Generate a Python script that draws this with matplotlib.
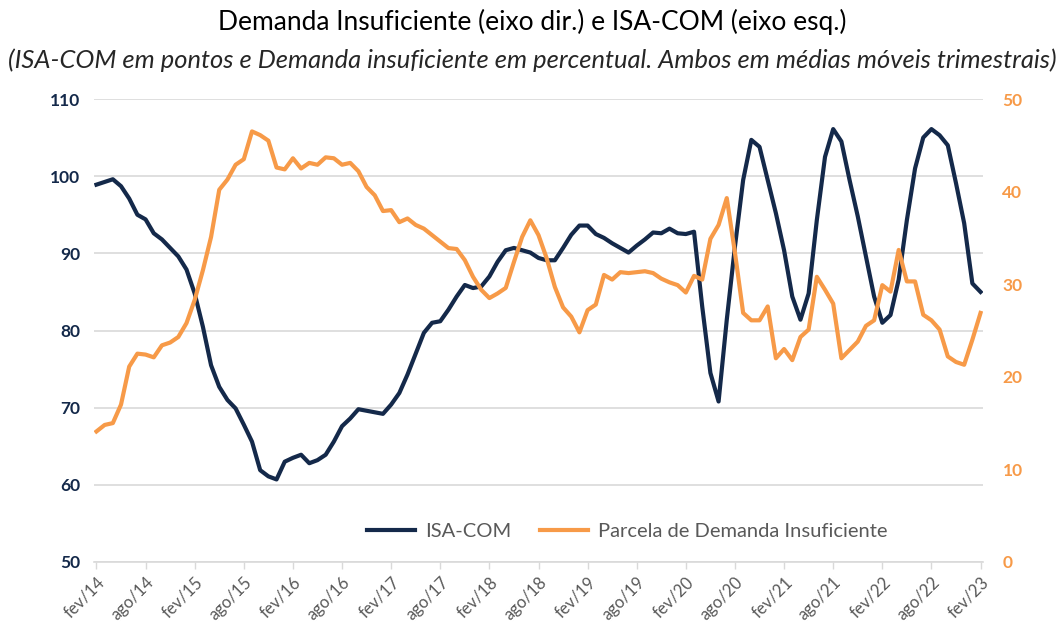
import matplotlib
matplotlib.use("Agg")
import matplotlib.pyplot as plt
import numpy as np

# Monthly data fev/14 .. fev/23 (109 points)
isa_com = [98.9, 99.25, 99.6, 98.7, 97.1, 95.0, 94.4, 92.6, 91.8, 90.7,
           89.6, 87.9, 84.8, 80.5, 75.5, 72.7, 71.0, 69.9, 67.8, 65.6,
           61.9, 61.1, 60.7, 63.0, 63.5, 63.9, 62.8, 63.2, 63.9, 65.6,
           67.6, 68.6, 69.8, 69.6, 69.4, 69.2, 70.4, 71.9, 74.3, 77.0,
           79.7, 81.0, 81.2, 82.7, 84.4, 85.9, 85.5, 85.7, 87.0, 88.9,
           90.4, 90.7, 90.4, 90.1, 89.4, 89.1, 89.1, 90.7, 92.4, 93.6,
           93.6, 92.5, 92.0, 91.3, 90.7, 90.1, 91.0, 91.8, 92.7, 92.6,
           93.2, 92.6, 92.5, 92.8, 83.1, 74.5, 70.8, 81.4, 90.9, 99.5,
           104.7, 103.8, 99.5, 95.2, 90.4, 84.4, 81.4, 84.8, 94.3, 102.5,
           106.1, 104.5, 99.5, 94.8, 89.6, 84.4, 81.0, 82.0, 86.6, 94.3,
           101.0, 105.0, 106.1, 105.3, 104.0, 99.1, 93.9, 86.1, 85.0]

demanda = [14.1, 14.8, 15.0, 17.0, 21.1, 22.5, 22.4, 22.1, 23.4, 23.7,
           24.3, 25.8, 28.3, 31.5, 35.1, 40.2, 41.3, 42.9, 43.5, 46.5,
           46.1, 45.5, 42.6, 42.4, 43.6, 42.5, 43.1, 42.9, 43.7, 43.6,
           42.9, 43.1, 42.2, 40.5, 39.6, 37.9, 38.0, 36.7, 37.1, 36.4,
           36.0, 35.3, 34.6, 33.9, 33.8, 32.6, 30.8, 29.4, 28.5, 29.0,
           29.6, 32.4, 35.1, 36.9, 35.3, 32.8, 29.7, 27.5, 26.5, 24.8,
           27.2, 27.8, 31.0, 30.5, 31.3, 31.2, 31.3, 31.4, 31.2, 30.6,
           30.2, 29.9, 29.1, 30.9, 30.5, 34.9, 36.4, 39.3, 33.4, 26.9,
           26.1, 26.1, 27.6, 22.0, 23.0, 21.8, 24.3, 25.1, 30.8, 29.4,
           27.9, 22.0, 22.9, 23.8, 25.5, 26.1, 29.9, 29.2, 33.7, 30.3,
           30.3, 26.7, 26.1, 25.1, 22.2, 21.6, 21.3, 24.0, 26.9]

tick_labels = ["fev/14", "ago/14", "fev/15", "ago/15", "fev/16", "ago/16",
               "fev/17", "ago/17", "fev/18", "ago/18", "fev/19", "ago/19",
               "fev/20", "ago/20", "fev/21", "ago/21", "fev/22", "ago/22",
               "fev/23"]
left_ticks = [50, 60, 70, 80, 90, 100, 110]
right_ticks = [0, 10, 20, 30, 40, 50]

NAVY = "#14294A"
ORANGE = "#F79A48"
GREY = "#595959"
GRID = "#D9D9D9"

plt.rcParams['font.family'] = ['Lato', 'DejaVu Sans']

fig = plt.figure(figsize=(10.64, 6.30), dpi=100)
ax = fig.add_axes([94/1064, 1-562/630, (983-94)/1064, (562-99)/630])
ax2 = ax.twinx()

x = np.arange(len(isa_com))
ax.plot(x, isa_com, color=NAVY, lw=3.0, solid_joinstyle='round', zorder=3,
        label="ISA-COM")
ax2.plot(x, demanda, color=ORANGE, lw=3.0, solid_joinstyle='round', zorder=3,
         label="Parcela de Demanda Insuficiente")

ax.set_ylim(50, 110)
ax2.set_ylim(0, 50)
ax.set_xlim(-0.3, len(isa_com) - 1 + 0.3)
ax.set_yticks(left_ticks)
ax2.set_yticks(right_ticks)
ax.grid(axis='y', color=GRID, lw=1.2)
ax.set_axisbelow(True)

ax.set_xticks(np.arange(0, len(isa_com), 6))
ax.set_xticklabels(tick_labels, rotation=45, ha='right', rotation_mode='anchor',
                   color=GREY, fontsize=12)
ax.tick_params(axis='x', length=5, color=GRID, width=1, pad=4)
ax.tick_params(axis='y', length=0, pad=10, labelsize=12.5, labelcolor=NAVY)
ax2.tick_params(axis='y', length=0, pad=14, labelsize=12.5, labelcolor=ORANGE)
for lab in ax.get_yticklabels():
    lab.set_fontweight('bold')
for lab in ax2.get_yticklabels():
    lab.set_fontweight('bold')

for a in (ax, ax2):
    for s in ['top', 'left', 'right', 'bottom']:
        a.spines[s].set_visible(False)
ax.spines['bottom'].set_visible(True)
ax.spines['bottom'].set_color(GRID)
ax.spines['bottom'].set_linewidth(1.2)

h1, l1 = ax.get_legend_handles_labels()
h2, l2 = ax2.get_legend_handles_labels()
leg = ax2.legend(h1 + h2, l1 + l2, loc='center', bbox_to_anchor=(0.60, 0.065),
                 ncol=2, frameon=False, fontsize=14.5, handlelength=2.4,
                 handletextpad=0.5, columnspacing=1.4, labelcolor=GREY)

fig.text(0.5, 1-22/630, "Demanda Insuficiente (eixo dir.) e ISA-COM (eixo esq.)",
         ha='center', va='center', fontsize=19, color='black')
fig.text(0.5, 1-60/630,
         "(ISA-COM em pontos e Demanda insuficiente em percentual. Ambos em médias móveis trimestrais)",
         ha='center', va='center', fontsize=18.4, style='italic', color='#262626')

fig.savefig("out.png", dpi=100)
